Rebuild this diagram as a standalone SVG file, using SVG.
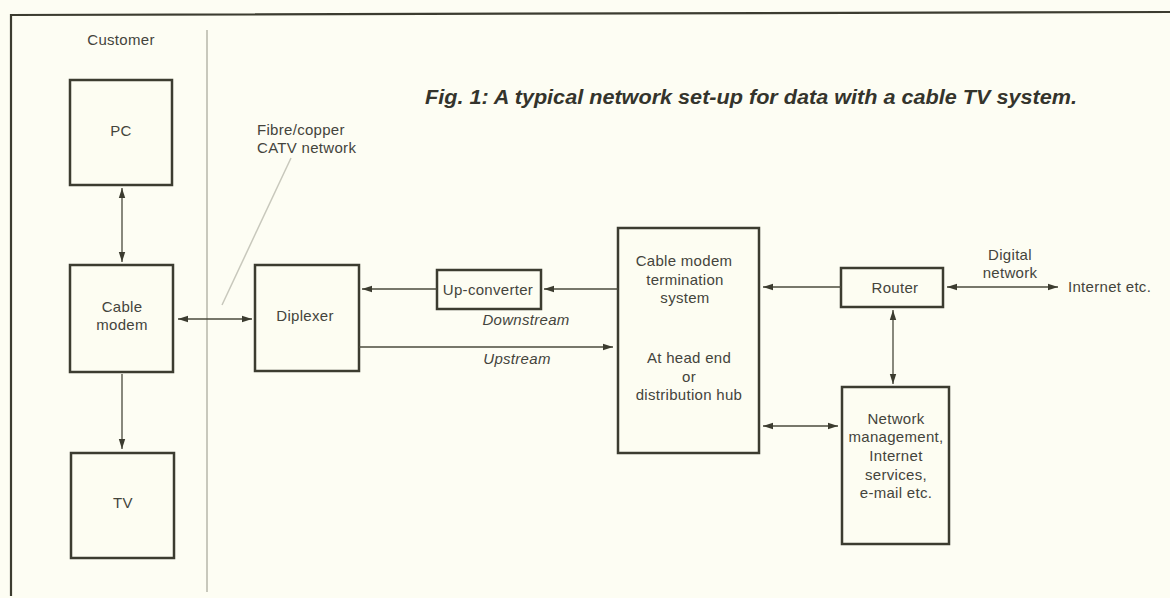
<svg xmlns="http://www.w3.org/2000/svg" width="1170" height="598" viewBox="0 0 1170 598">
<defs>
<style>
.box{fill:#fdfdf2;stroke:#3c3c30;stroke-width:2.5}
.ln{stroke:#4a4a3c;stroke-width:1.3;fill:none}
.frame{stroke:#3c3c30;stroke-width:2.2;fill:none}
text{font-family:"Liberation Sans",Arial,sans-serif;fill:#44443c;font-size:15px;letter-spacing:0.3px}
.c{text-anchor:middle}
.it{font-style:italic}
.title{font-weight:bold;font-style:italic;font-size:20px;fill:#34342c;letter-spacing:0}
</style>
<marker id="ah" viewBox="0 0 10 8" refX="10" refY="4" markerWidth="10" markerHeight="8" markerUnits="userSpaceOnUse" orient="auto-start-reverse">
<path d="M0,0.8 L10,4 L0,7.2 Z" fill="#3c3c30"/>
</marker>
</defs>
<rect width="1170" height="598" fill="#fdfdf3"/>
<g id="frame">
<path class="frame" d="M11,596 L11,15 L1170,12"/>
<line x1="207" y1="30" x2="207" y2="592" stroke="#c8c8bc" stroke-width="2"/>
<line x1="291" y1="158" x2="222" y2="305" stroke="#c8c8bc" stroke-width="1.5"/>
</g>
<g id="labels">
<text x="121" y="45" class="c">Customer</text>
<text x="257" y="135">Fibre/copper</text>
<text x="257" y="153">CATV network</text>
<text x="425" y="104" class="title" textLength="652" lengthAdjust="spacingAndGlyphs">Fig. 1: A typical network set-up for data with a cable TV system.</text>
<text x="526" y="325" class="c it">Downstream</text>
<text x="517" y="364" class="c it">Upstream</text>
<text x="1010" y="260" class="c">Digital</text>
<text x="1010" y="278" class="c">network</text>
<text x="1068" y="292">Internet etc.</text>
</g>
<g id="pc"><rect class="box" x="70" y="80" width="102" height="105"/><text x="121" y="136" class="c">PC</text></g>
<g id="modem"><rect class="box" x="70" y="265" width="103" height="107"/><text x="122" y="312" class="c">Cable</text><text x="122" y="330" class="c">modem</text></g>
<g id="tv"><rect class="box" x="71" y="453" width="103" height="105"/><text x="123" y="508" class="c">TV</text></g>
<g id="diplexer"><rect class="box" x="255" y="265" width="104" height="106"/><text x="305" y="321" class="c">Diplexer</text></g>
<g id="upconverter"><rect class="box" x="437" y="270" width="104" height="39"/><text x="488" y="295" class="c">Up-converter</text></g>
<g id="cmts"><rect class="box" x="618" y="228" width="141" height="225"/>
<text x="684" y="266" class="c">Cable modem</text><text x="685" y="285" class="c">termination</text><text x="685" y="303" class="c">system</text>
<text x="689" y="363" class="c">At head end</text><text x="689" y="382" class="c">or</text><text x="689" y="400" class="c">distribution hub</text></g>
<g id="router"><rect class="box" x="841" y="268" width="102" height="39"/><text x="895" y="293" class="c">Router</text></g>
<g id="netmgmt"><rect class="box" x="842" y="387" width="107" height="157"/>
<text x="896" y="424" class="c">Network</text><text x="896" y="442" class="c">management,</text><text x="896" y="461" class="c">Internet</text><text x="896" y="480" class="c">services,</text><text x="896" y="498" class="c">e-mail etc.</text></g>
<g id="connectors">
<line class="ln" x1="122" y1="188" x2="122" y2="262" marker-start="url(#ah)" marker-end="url(#ah)"/>
<line class="ln" x1="122" y1="374" x2="122" y2="449" marker-end="url(#ah)"/>
<line class="ln" x1="178" y1="319" x2="252" y2="319" marker-start="url(#ah)" marker-end="url(#ah)"/>
<line class="ln" x1="437" y1="289" x2="362" y2="289" marker-end="url(#ah)"/>
<line class="ln" x1="618" y1="289" x2="544" y2="289" marker-end="url(#ah)"/>
<line class="ln" x1="359" y1="347" x2="613" y2="347" marker-end="url(#ah)"/>
<line class="ln" x1="841" y1="287" x2="763" y2="287" marker-end="url(#ah)"/>
<line class="ln" x1="947" y1="287" x2="1058" y2="287" marker-start="url(#ah)" marker-end="url(#ah)"/>
<line class="ln" x1="893" y1="310" x2="893" y2="384" marker-start="url(#ah)" marker-end="url(#ah)"/>
<line class="ln" x1="763" y1="426" x2="838" y2="426" marker-start="url(#ah)" marker-end="url(#ah)"/>
</g>
</svg>
